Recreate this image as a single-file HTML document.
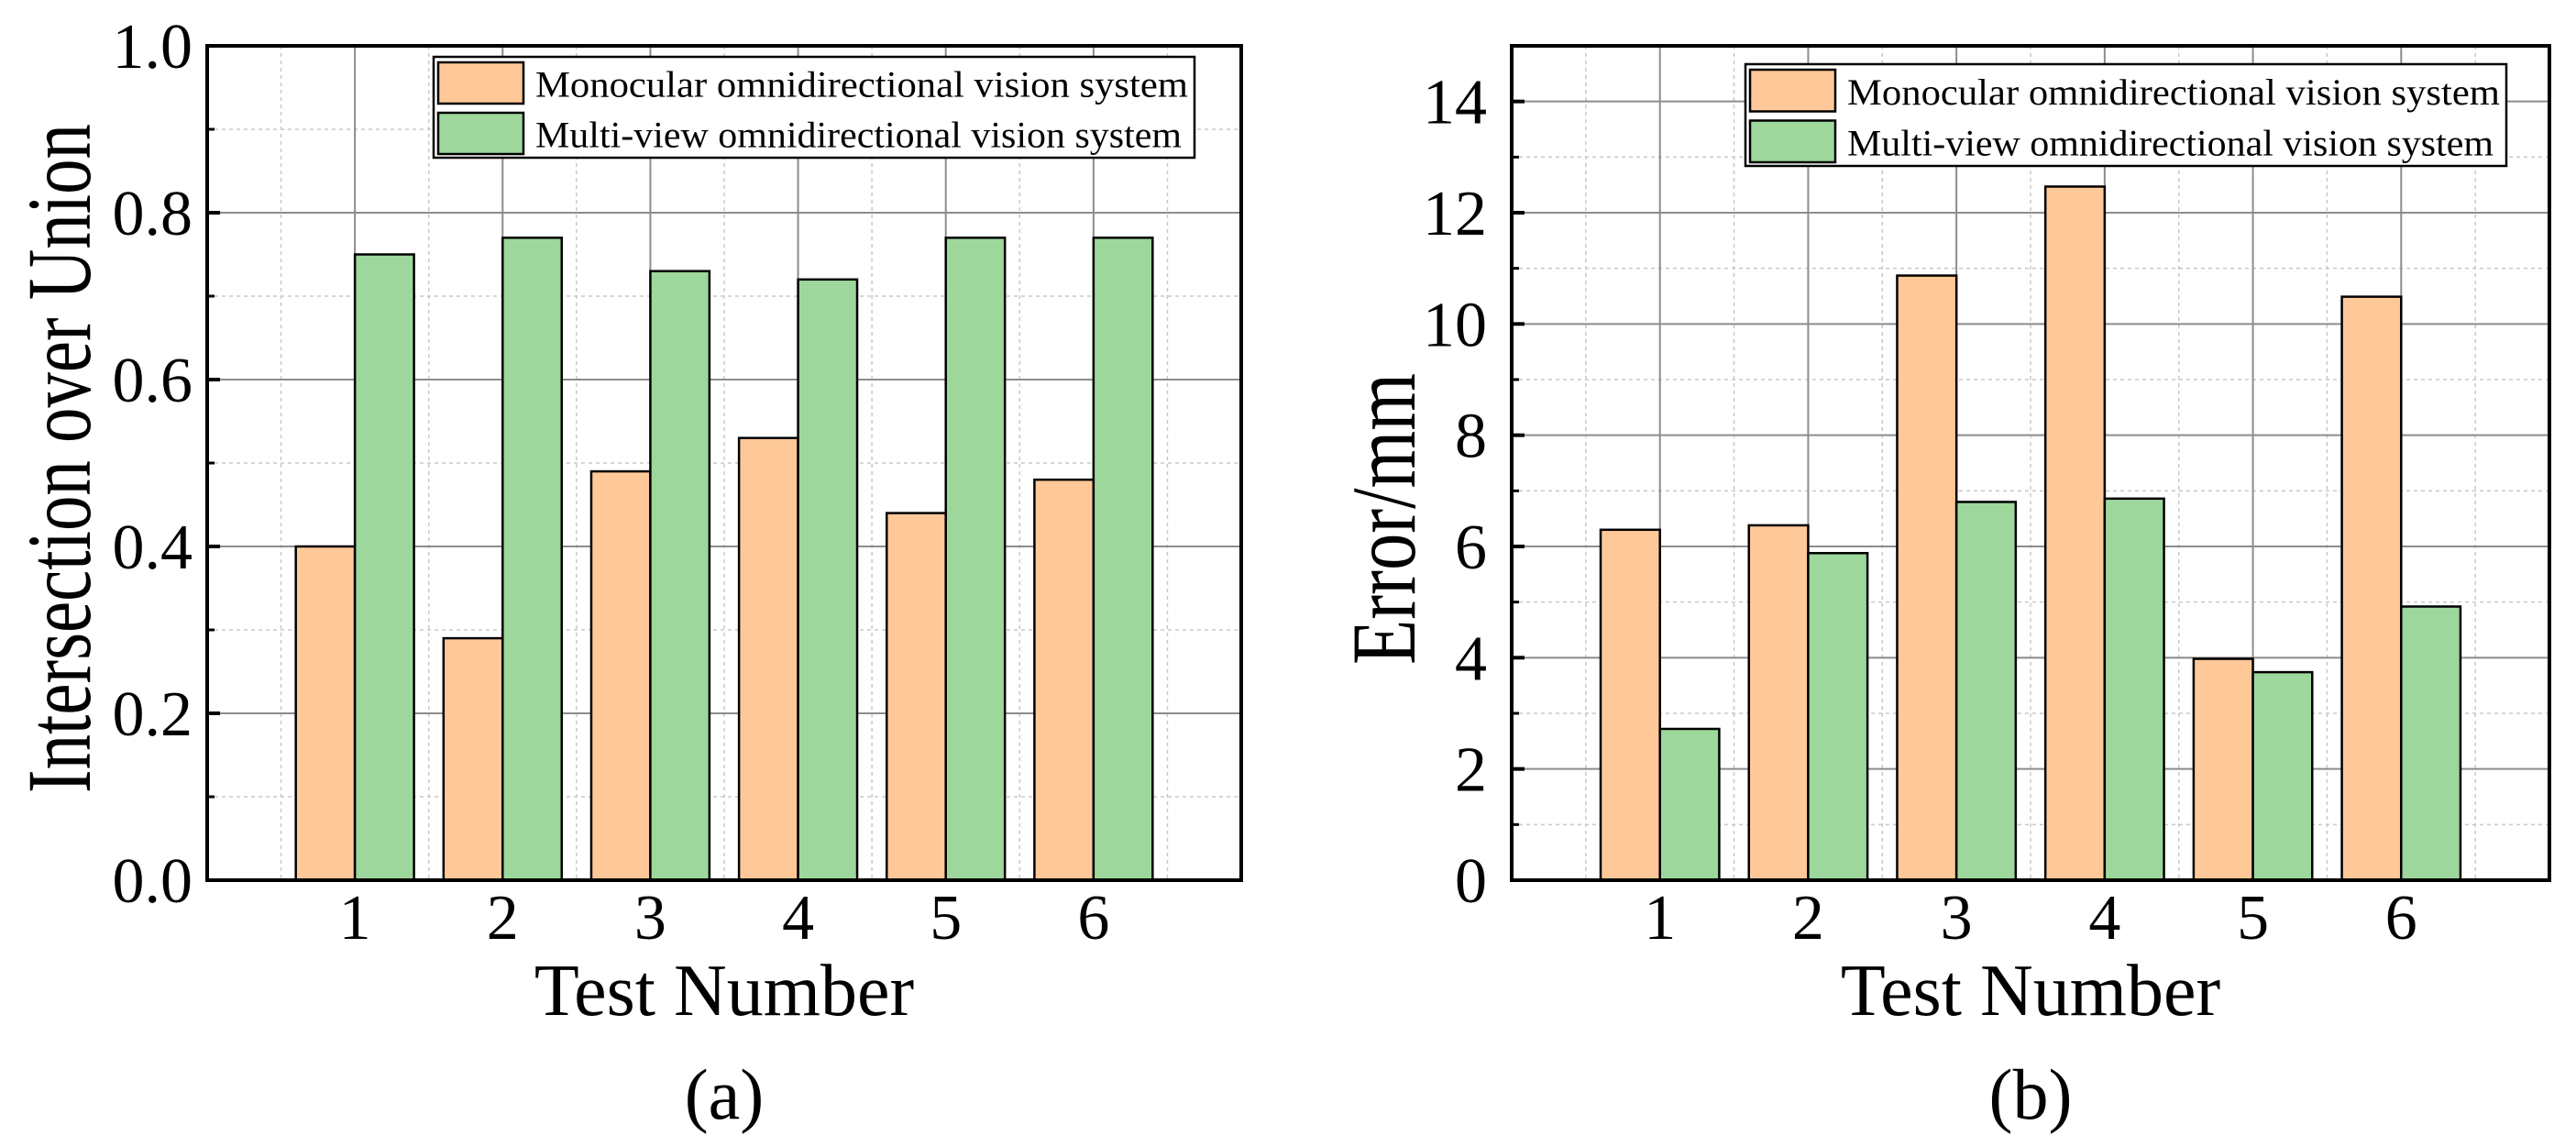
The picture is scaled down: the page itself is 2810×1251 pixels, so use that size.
<!DOCTYPE html>
<html><head><meta charset="utf-8"><style>
html,body{margin:0;padding:0;background:#fff;}
svg{display:block;font-family:"Liberation Serif",serif;}
</style></head><body>
<svg id="fig" width="2810" height="1251" viewBox="0 0 2810 1251" xmlns="http://www.w3.org/2000/svg"></svg>
<script>
const categories = ["1","2","3","4","5","6"];
const iouMono = [0.40,0.29,0.49,0.53,0.44,0.48];
const iouMulti = [0.75,0.77,0.73,0.72,0.77,0.77];
const iouTicks = ["0.0","0.2","0.4","0.6","0.8","1.0"];
const errMono = [6.30,6.38,10.87,12.47,3.98,10.49];
const errMulti = [2.72,5.88,6.80,6.86,3.74,4.92];
const errTicks = ["0","2","4","6","8","10","12","14"];
const legendLabels = ["Monocular omnidirectional vision system","Multi-view omnidirectional vision system"];

const NS="http://www.w3.org/2000/svg";
const svg=document.getElementById('fig');
function mk(tag,attrs,parent){const e=document.createElementNS(NS,tag);for(const k in attrs)e.setAttribute(k,attrs[k]);(parent||svg).appendChild(e);return e;}
const ORANGE="#FFC898", GREEN="#9ED79B";

function drawChart(cfg){
  const g=mk('g',{});
  
  
  const L=cfg.left,R=cfg.right,T=50,B=960;
  const xs=v=>L+(R-L)*v/7;
  const ys=v=>B-(B-T)*(v-cfg.ymin)/(cfg.ymax-cfg.ymin);
  for(let v=cfg.ymin+cfg.minor; v<cfg.ymax-1e-9; v+=cfg.minor){
    const l=mk('line',{x1:L,x2:R,y1:ys(v),y2:ys(v),stroke:'#c8c8c8','stroke-width':1.5,'stroke-dasharray':'4,4'},g);
    
    
  }
  for(let i=0;i<7;i++){
    const x=xs(i+0.5);
    const l=mk('line',{x1:x,x2:x,y1:T,y2:B,stroke:'#c8c8c8','stroke-width':1.5,'stroke-dasharray':'4,4'},g);
    
    
  }
  cfg.ticks.forEach(t=>{
    const y=ys(parseFloat(t));
    const l=mk('line',{x1:L,x2:R,y1:y,y2:y,stroke:'#8c8c8c','stroke-width':2},g);
    
    
    const tk=mk('line',{x1:L,x2:L+14,y1:y,y2:y,stroke:'#000','stroke-width':4},g);
    
    
    const tx=mk('text',{x:cfg.tickRight,y:y+24,'text-anchor':'end','font-size':70},g);
    tx.textContent=t;
    
    
  });
  for(let v=cfg.ymin+cfg.minor; v<cfg.ymax; v+=2*cfg.minor){
    const tk=mk('line',{x1:L,x2:L+8,y1:ys(v),y2:ys(v),stroke:'#000','stroke-width':3},g);
    
    
  }
  categories.forEach((c,i)=>{
    const x=xs(i+1);
    const l=mk('line',{x1:x,x2:x,y1:T,y2:B,stroke:'#8c8c8c','stroke-width':2},g);
    
    
  });
  categories.forEach((c,i)=>{
    const x=xs(i+1), w=xs(0.4)-xs(0);
    const b1=mk('rect',{x:x-w,y:ys(cfg.s1[i]),width:w,height:B-ys(cfg.s1[i]),fill:ORANGE,stroke:'#000','stroke-width':2.5},g);
    
    
    const b2=mk('rect',{x:x,y:ys(cfg.s2[i]),width:w,height:B-ys(cfg.s2[i]),fill:GREEN,stroke:'#000','stroke-width':2.5},g);
    
    
    const tx=mk('text',{x:x,y:1024,'text-anchor':'middle','font-size':70},g);
    tx.textContent=c;
    
    
  });
  const fr=mk('rect',{x:L,y:T,width:R-L,height:B-T,fill:'none',stroke:'#000','stroke-width':4},g);
  
  
  const lg=cfg.legend;
  const lgG=mk('g',{},g);
  
  
  const lb=mk('rect',{x:lg.x,y:lg.y,width:lg.w,height:lg.h,fill:'#fff',stroke:'#000','stroke-width':2.5},lgG);
  
  
  [ORANGE,GREEN].forEach((col,k)=>{
    const sy=lg.y+6+k*(lg.h/2);
    const sw=mk('rect',{x:lg.x+5,y:sy,width:93,height:lg.h/2-10,fill:col,stroke:'#000','stroke-width':2.5},lgG);
    
    
    const tx=mk('text',{x:lg.x+111,y:sy+lg.h/4+10,'font-size':40,textLength:lg.tl[k],lengthAdjust:'spacingAndGlyphs'},lgG);
    tx.textContent=legendLabels[k];
    
    
  });
  const cx=(L+R)/2;
  const xt=mk('text',{x:cx,y:1107,'text-anchor':'middle','font-size':80},g);
  xt.textContent='Test Number';
  
  
  const yt=mk('text',{x:0,y:0,'text-anchor':'middle','font-size':cfg.ytSize,transform:`translate(${cfg.ytX},${cfg.ytY}) rotate(-90)`,textLength:cfg.ytLen,lengthAdjust:'spacingAndGlyphs'},g);
  yt.textContent=cfg.ytitle;
  
  
  const cap=mk('text',{x:cx,y:1220,'text-anchor':'middle','font-size':78},g);
  cap.textContent=cfg.caption;
  
  
}

drawChart({name:'chart-iou',left:226,right:1354,ymin:0,ymax:1.0,minor:0.1,ticks:iouTicks,tickRight:210,
  s1:iouMono,s2:iouMulti,legend:{x:473,y:62,w:830,h:110,tl:[712,705]},
  ytitle:'Intersection over Union',ytX:98,ytY:500,ytSize:100,ytLen:730,caption:'(a)'});
drawChart({name:'chart-error',left:1649,right:2781,ymin:0,ymax:15,minor:1,ticks:errTicks,tickRight:1622,
  s1:errMono,s2:errMulti,legend:{x:1904,y:70,w:830,h:111,tl:[712,705]},
  ytitle:'Error/mm',ytX:1543,ytY:566,ytSize:100,ytLen:318,caption:'(b)'});
</script>
</body></html>
